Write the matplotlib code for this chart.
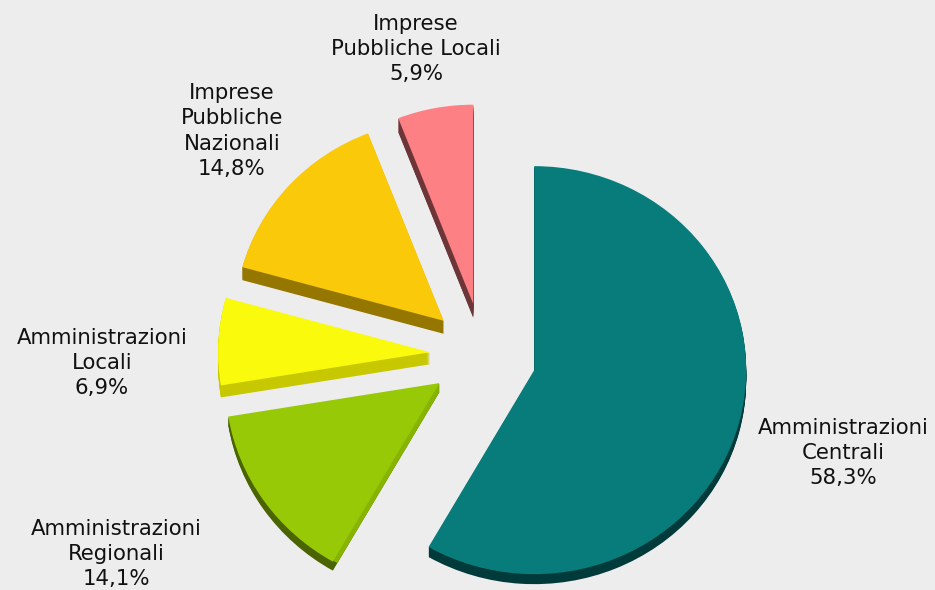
import matplotlib.pyplot as plt

names = ["Amministrazioni\nCentrali", "Amministrazioni\nRegionali", "Amministrazioni\nLocali",
         "Imprese\nPubbliche\nNazionali", "Imprese\nPubbliche Locali"]
values = [58.3, 14.1, 6.9, 14.8, 5.9]
top_colors = ["#087b7b", "#97c907", "#f9fa0c", "#f9c90a", "#fd8085"]
side_colors = ["#003a3a", "#4a6400", "#c8c800", "#957700", "#6d3538"]
radial_colors = [None, "#86b400", None, None, None]
label_pos = [(843, 453), (116, 554), (102, 363), (232, 131), (416, 49)]
radii = [212, 214, 212, 209, 207]
depths = [10, 9, 12, 13, 14]
shift_y = [3, 0, 1, 1, 0]

W, H = 935, 590
SQUASH = 204 / 212
CX, CY = 483, 354
EXPLODE = 53

fig = plt.figure(figsize=(W / 100, H / 100), dpi=100, facecolor="#ededed")
ax = fig.add_axes([0, 0, 1, 1])
ylim = H / SQUASH


def slice_at(i, color, dy=0, shrink=0):
    cols = ["none"] * len(values)
    cols[i] = color
    y = ylim - (CY + shift_y[i] + dy) / SQUASH
    ax.pie(values, colors=cols, startangle=90, counterclock=False, explode=[EXPLODE] * len(values),
           radius=radii[i] - shrink, center=(CX, y), frame=True)


for i in range(len(values)):
    # stacked copies make the side of the slice
    for d in range(depths[i], 0, -1):
        slice_at(i, side_colors[i], dy=d)
    if radial_colors[i]:
        for d in range(depths[i], 0, -1):
            slice_at(i, radial_colors[i], dy=d, shrink=depths[i])
    slice_at(i, top_colors[i])

ax.set_aspect("auto")
ax.set_xlim(0, W)
ax.set_ylim(0, ylim)
ax.axis("off")

for name, v, (x, y) in zip(names, values, label_pos):
    txt = name + "\n" + f"{v:.1f}".replace(".", ",") + "%"
    fig.text(x / W, 1 - y / H, txt, ha="center", va="center", fontsize=15.3, color="#111111",
             linespacing=1.34, family="DejaVu Sans")

fig.savefig("out.png", dpi=100, facecolor=fig.get_facecolor())
